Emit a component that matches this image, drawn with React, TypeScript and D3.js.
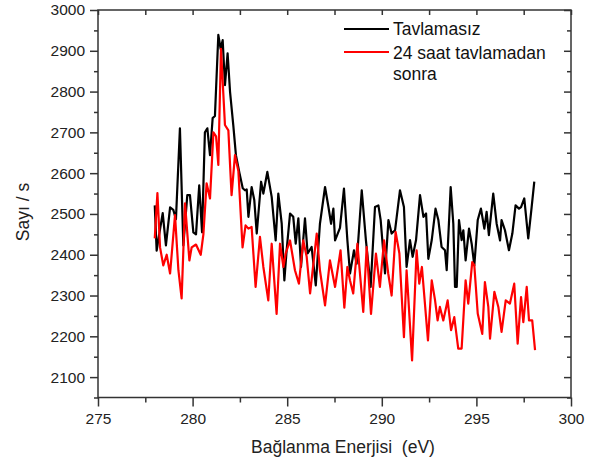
import React, { useEffect, useRef } from "react";
import * as d3 from "d3";

// Tavlamasız (black)
const energyUnannealed = [
  278.0, 278.1, 278.2, 278.42, 278.59, 278.81, 278.98, 279.12, 279.33, 279.51,
  279.72, 279.86, 280.04, 280.18, 280.35, 280.5, 280.65, 280.78, 280.92, 281.06,
  281.18, 281.36, 281.48, 281.59, 281.71, 281.85, 281.98, 282.15, 282.29, 282.47,
  282.65, 282.77, 282.86, 282.95, 283.12, 283.26, 283.39, 283.62, 283.74, 283.95,
  284.18, 284.39, 284.53, 284.71, 284.85, 284.97, 285.15, 285.32, 285.45, 285.59,
  285.73, 285.94, 286.08, 286.29, 286.51, 286.73, 287.0, 287.18, 287.32, 287.44,
  287.53, 287.79, 288.0, 288.18, 288.32, 288.53, 288.67, 288.94, 289.16, 289.41,
  289.64, 289.82, 289.94, 290.17, 290.35, 290.52, 290.7, 290.96, 291.17, 291.31,
  291.49, 291.63, 291.81, 292.02, 292.2, 292.34, 292.46, 292.64, 292.84, 292.99,
  293.16, 293.34, 293.43, 293.64, 293.78, 293.87, 293.96, 294.08, 294.22, 294.31,
  294.43, 294.61, 294.75, 294.89, 295.07, 295.24, 295.42, 295.54, 295.66, 295.89,
  296.07, 296.25, 296.33, 296.51, 296.72, 296.9, 297.07, 297.25, 297.36, 297.53,
  297.74, 297.92, 298.06,
];
const countsUnannealed = [
  2521, 2410, 2440, 2502, 2423, 2516, 2510, 2487, 2710, 2423,
  2546, 2546, 2455, 2450, 2570, 2455, 2700, 2710, 2644, 2735,
  2740, 2939, 2905, 2926, 2816, 2894, 2799, 2718, 2644, 2602,
  2563, 2558, 2560, 2493, 2566, 2534, 2452, 2579, 2550, 2603,
  2542, 2435, 2550, 2476, 2337, 2411, 2501, 2493, 2427, 2489,
  2370, 2489, 2403, 2419, 2325, 2476, 2566, 2517, 2476, 2513,
  2435, 2466, 2562, 2436, 2354, 2411, 2378, 2558, 2436, 2321,
  2517, 2521, 2485, 2354, 2485, 2452, 2460, 2558, 2517, 2370,
  2436, 2395, 2436, 2546, 2493, 2501, 2390, 2436, 2513, 2485,
  2419, 2411, 2362, 2566, 2476, 2321, 2321, 2485, 2436, 2460,
  2386, 2464, 2427, 2374, 2485, 2513, 2464, 2505, 2448, 2550,
  2476, 2435, 2485, 2460, 2411, 2452, 2521, 2513, 2517, 2538,
  2440, 2517, 2579,
];

// 24 saat tavlamadan sonra (red)
const energyAnnealed = [
  278.0, 278.14, 278.28, 278.45, 278.63, 278.81, 279.07, 279.25, 279.42, 279.6,
  279.83, 279.95, 280.18, 280.43, 280.57, 280.74, 280.92, 281.1, 281.24, 281.36,
  281.5, 281.71, 281.89, 282.06, 282.24, 282.42, 282.64, 282.8, 282.95, 283.12,
  283.33, 283.56, 283.74, 284.0, 284.18, 284.44, 284.62, 284.8, 284.92, 285.15,
  285.41, 285.62, 285.85, 286.03, 286.21, 286.56, 286.73, 287.0, 287.26, 287.53,
  287.82, 288.02, 288.18, 288.32, 288.49, 288.71, 289.02, 289.2, 289.43, 289.69,
  289.9, 290.12, 290.34, 290.52, 290.73, 290.93, 291.17, 291.31, 291.4, 291.6,
  291.84, 291.98, 292.12, 292.44, 292.64, 292.81, 292.95, 293.07, 293.25, 293.48,
  293.66, 293.83, 294.04, 294.22, 294.43, 294.57, 294.78, 294.89, 295.07, 295.31,
  295.45, 295.63, 295.72, 295.95, 296.16, 296.33, 296.55, 296.77, 297.0, 297.18,
  297.36, 297.48, 297.66, 297.78, 297.95, 298.1,
];
const countsAnnealed = [
  2440, 2551, 2418, 2374, 2400, 2354, 2497, 2362, 2293, 2526,
  2386, 2418, 2425, 2400, 2450, 2575, 2538, 2700, 2690, 2620,
  2905, 2718, 2705, 2546, 2644, 2605, 2418, 2472, 2464, 2468,
  2321, 2444, 2370, 2288, 2427, 2255, 2427, 2370, 2403, 2435,
  2362, 2329, 2435, 2395, 2305, 2452, 2362, 2276, 2386, 2321,
  2411, 2270, 2370, 2337, 2305, 2427, 2260, 2419, 2255, 2403,
  2321, 2435, 2354, 2300, 2456, 2403, 2198, 2362, 2296, 2141,
  2411, 2329, 2370, 2190, 2337, 2290, 2239, 2272, 2239, 2288,
  2215, 2247, 2170, 2170, 2337, 2280, 2382, 2374, 2256, 2206,
  2333, 2272, 2194, 2309, 2272, 2211, 2288, 2280, 2329, 2182,
  2296, 2235, 2321, 2239, 2239, 2166,
];

const xTicks = [275, 280, 285, 290, 295, 300];
const xMinorTicks = [277.5, 282.5, 287.5, 292.5, 297.5];
const yTicks = [2100, 2200, 2300, 2400, 2500, 2600, 2700, 2800, 2900, 3000];
const yMinorTicks = [2050, 2150, 2250, 2350, 2450, 2550, 2650, 2750, 2850, 2950];

const FONT = "Arial, 'Liberation Sans', sans-serif";

const App = () => {
  const ref = useRef<SVGSVGElement>(null);

  useEffect(() => {
    const svg = d3.select(ref.current);
    svg.selectAll("*").remove();

    const left = 98, right = 571, top = 10, bottom = 397.5;

    const x = d3.scaleLinear().domain([275, 300]).range([left, right]);
    const y = d3.scaleLinear().domain([2050, 3000]).range([bottom, top]);

    const axisColor = "#333";

    const styleAxis = (g) => {
      g.select(".domain").remove();
      g.selectAll("line").attr("stroke", axisColor).attr("stroke-width", 1.5);
      g.selectAll("text")
        .attr("fill", "#222")
        .style("font-family", FONT)
        .style("font-size", "15.5px");
    };

    // bottom axis
    svg.append("g")
      .attr("transform", `translate(0,${bottom})`)
      .call(d3.axisBottom(x).tickValues(xTicks).tickSize(9).tickPadding(6).tickFormat(d3.format("d")))
      .call(styleAxis);
    svg.append("g")
      .attr("transform", `translate(0,${bottom})`)
      .call(d3.axisBottom(x).tickValues(xMinorTicks).tickSize(5).tickFormat(() => ""))
      .call(styleAxis);

    // top axis, ticks point inward
    svg.append("g")
      .attr("transform", `translate(0,${top})`)
      .call(d3.axisTop(x).tickValues([...xTicks, ...xMinorTicks]).tickSize(-5).tickFormat(() => ""))
      .call(styleAxis);

    // left axis
    svg.append("g")
      .attr("transform", `translate(${left},0)`)
      .call(d3.axisLeft(y).tickValues(yTicks).tickSize(8).tickPadding(5).tickFormat(d3.format("d")))
      .call(styleAxis);
    svg.append("g")
      .attr("transform", `translate(${left},0)`)
      .call(d3.axisLeft(y).tickValues(yMinorTicks).tickSize(4).tickFormat(() => ""))
      .call(styleAxis);

    // right axis, ticks point inward
    svg.append("g")
      .attr("transform", `translate(${right},0)`)
      .call(d3.axisRight(y).tickValues(yTicks).tickSize(-7).tickFormat(() => ""))
      .call(styleAxis);
    svg.append("g")
      .attr("transform", `translate(${right},0)`)
      .call(d3.axisRight(y).tickValues(yMinorTicks).tickSize(-4).tickFormat(() => ""))
      .call(styleAxis);

    // frame
    svg.append("rect")
      .attr("x", left)
      .attr("y", top)
      .attr("width", right - left)
      .attr("height", bottom - top)
      .attr("fill", "none")
      .attr("stroke", axisColor)
      .attr("stroke-width", 1.5);

    const line = d3.line<[number, number]>()
      .x((d) => x(d[0]))
      .y((d) => y(d[1]));

    const series = [
      { e: energyUnannealed, c: countsUnannealed, color: "#000000" },
      { e: energyAnnealed, c: countsAnnealed, color: "#ff0000" },
    ];
    series.forEach((s) => {
      svg.append("path")
        .datum(s.e.map((v, i) => [v, s.c[i]] as [number, number]))
        .attr("d", line)
        .attr("fill", "none")
        .attr("stroke", s.color)
        .attr("stroke-width", 2.2)
        .attr("stroke-linejoin", "round");
    });

    // legend
    const legend = svg.append("g");
    legend.append("line")
      .attr("x1", 344).attr("x2", 389).attr("y1", 29).attr("y2", 29)
      .attr("stroke", "#000").attr("stroke-width", 2.2);
    legend.append("line")
      .attr("x1", 344).attr("x2", 389).attr("y1", 52).attr("y2", 52)
      .attr("stroke", "#ff0000").attr("stroke-width", 2.2);
    legend.selectAll("text.leg")
      .data([
        { t: "Tavlamasız", y: 35 },
        { t: "24 saat tavlamadan", y: 59 },
        { t: "sonra", y: 80 },
      ])
      .enter()
      .append("text")
      .attr("x", 393)
      .attr("y", (d) => d.y)
      .text((d) => d.t)
      .attr("fill", "#111")
      .style("font-family", FONT)
      .style("font-size", "17.5px");

    // axis titles
    svg.append("text")
      .attr("transform", `translate(29,212) rotate(-90)`)
      .attr("text-anchor", "middle")
      .text("Sayı / s")
      .attr("fill", "#222")
      .style("font-family", FONT)
      .style("font-size", "17.5px");

    svg.append("text")
      .attr("x", 343)
      .attr("y", 453)
      .attr("text-anchor", "middle")
      .style("white-space", "pre")
      .text("Bağlanma Enerjisi  (eV)")
      .attr("fill", "#222")
      .style("font-family", FONT)
      .style("font-size", "17.5px");
  }, []);

  return (
    <svg
      ref={ref}
      width={593}
      height={463}
      style={{ position: "absolute", left: 0, top: 0, background: "#fff" }}
    />
  );
};

export default App;
